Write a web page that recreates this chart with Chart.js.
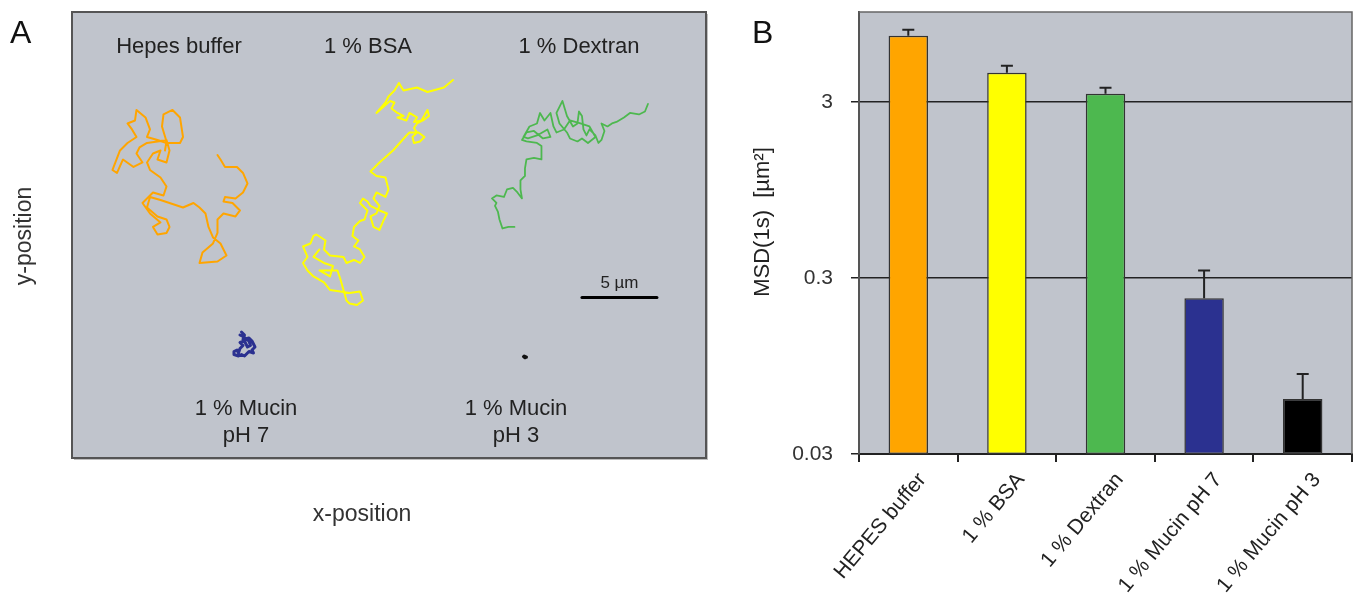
<!DOCTYPE html>
<html>
<head>
<meta charset="utf-8">
<script src="https://cdn.jsdelivr.net/npm/chart.js@4.4.1/dist/chart.umd.min.js"></script>
<style>
  html, body { margin: 0; padding: 0; background: #fff; }
  #wrap { position: relative; width: 1358px; height: 612px; }
  #cA { position: absolute; left: 0; top: 0; }
  #cB { position: absolute; left: 720px; top: 0; }
</style>
</head>
<body>
<div id="wrap">
  <canvas id="cA" width="720" height="612"></canvas>
  <canvas id="cB" width="638" height="612"></canvas>
</div>
<script>
// ---- panel A: particle tracks, positions in µm ----
const hepesTrack = [[9.7,20.2],[9.9,19.9],[10.2,19.4],[11.0,19.4],[11.4,19.0],[11.7,18.3],[11.4,17.7],[10.9,17.3],[10.2,17.4],[10.1,17.1],[10.7,17.0],[11.2,16.5],[10.9,16.1],[10.1,16.3],[9.7,15.9],[9.7,15.0],[9.4,14.3],[8.7,13.7],[8.5,13.0],[9.7,13.1],[10.3,13.5],[9.9,14.3],[9.4,14.7],[9.1,15.4],[8.9,16.3],[8.5,16.7],[8.1,17.0],[7.4,16.7],[6.5,17.0],[5.9,17.2],[5.2,17.4],[5.0,16.7],[5.7,16.1],[6.3,15.9],[6.5,15.4],[6.3,15.0],[5.7,14.9],[5.4,15.4],[5.9,15.7],[5.2,16.3],[4.7,17.0],[5.4,17.7],[6.1,17.5],[6.3,18.1],[5.9,18.7],[5.2,19.2],[5.0,19.7],[5.4,20.3],[5.9,20.5],[5.7,19.9],[6.3,19.7],[6.5,20.5],[6.3,21.2],[5.7,21.1],[5.0,21.0],[4.5,20.7],[4.3,20.3],[4.7,19.7],[4.1,19.4],[3.4,19.9],[3.0,19.0],[2.7,19.2],[3.2,20.5],[3.7,21.0],[4.3,21.4],[4.0,21.9],[3.7,22.3],[4.2,22.5],[4.3,23.2],[4.9,22.7],[5.2,21.9],[5.0,21.4],[5.7,21.2],[6.3,21.0],[7.2,21.0],[7.4,21.4],[7.2,22.7],[6.7,23.2],[6.1,22.9],[6.0,22.1],[6.3,21.1],[6.2,20.5]];
const bsaTrack = [[25.4,25.2],[24.8,24.7],[23.7,24.4],[23.0,24.7],[22.1,24.5],[21.8,25.0],[21.5,24.5],[21.1,24.1],[20.9,23.7],[20.3,23.0],[21.2,23.8],[21.5,23.7],[21.3,23.3],[21.7,23.0],[22.1,22.8],[21.7,22.7],[22.3,22.5],[22.5,23.0],[23.0,22.7],[22.8,22.4],[23.3,22.5],[23.7,23.2],[23.8,22.8],[23.4,22.5],[23.0,22.3],[22.8,22.0],[23.0,21.7],[22.7,21.4],[22.8,21.0],[23.2,21.1],[23.5,21.4],[23.1,21.7],[22.5,21.7],[22.3,21.5],[21.4,20.5],[20.5,19.7],[19.9,19.1],[20.3,18.8],[20.9,18.7],[21.1,17.9],[20.9,17.4],[20.3,17.7],[20.1,17.3],[20.5,16.8],[20.3,16.3],[19.9,16.1],[20.1,15.4],[20.5,15.2],[20.8,15.9],[21.0,16.3],[20.5,16.5],[19.9,16.8],[19.7,17.1],[19.4,17.3],[19.2,17.0],[19.7,16.5],[19.5,15.9],[19.2,15.8],[18.8,15.4],[18.7,14.8],[19.1,14.5],[18.8,14.1],[19.2,13.9],[19.5,13.4],[19.2,13.0],[18.8,13.2],[18.3,13.0],[18.1,13.4],[17.2,13.5],[16.8,13.9],[16.9,14.5],[16.3,14.9],[16.1,14.8],[15.9,14.3],[15.4,14.1],[15.7,13.4],[15.4,13.0],[15.7,12.5],[16.1,12.1],[16.8,11.7],[17.2,11.2],[17.9,11.1],[18.5,11.0],[19.2,11.1],[19.4,10.5],[19.0,10.2],[18.5,10.3],[18.3,10.5],[17.9,11.9],[17.7,12.5],[16.5,12.5],[17.2,12.1],[17.4,12.8],[16.8,13.0],[16.1,13.4],[16.5,13.9]];
const dextranTrack = [[38.4,23.6],[38.2,23.1],[38.0,23.0],[37.8,22.9],[37.2,23.0],[36.8,22.7],[36.3,22.4],[36.0,22.3],[35.7,22.1],[35.3,22.3],[35.5,21.8],[35.3,21.2],[35.1,21.0],[34.9,21.5],[34.5,21.9],[34.3,21.5],[34.1,21.9],[34.0,22.8],[33.8,23.1],[33.7,22.3],[33.4,22.1],[33.0,22.8],[32.7,23.8],[32.3,23.0],[32.5,22.3],[33.0,21.7],[33.2,21.3],[33.7,21.1],[34.0,21.3],[34.4,21.0],[34.9,21.4],[34.5,22.1],[33.9,22.3],[33.2,22.5],[32.8,21.9],[32.3,21.7],[32.1,22.1],[31.9,23.0],[31.5,22.5],[31.2,23.0],[31.0,22.3],[30.5,22.1],[30.1,21.4],[30.4,21.3],[31.0,21.5],[31.7,21.9],[31.9,21.4],[31.4,21.3],[30.8,21.8],[30.3,21.7],[30.0,21.2],[30.3,21.1],[31.0,21.0],[31.3,20.8],[31.3,19.9],[30.8,20.0],[30.3,19.9],[30.2,19.3],[30.2,18.8],[29.9,18.5],[29.9,17.9],[30.0,17.3],[29.7,17.7],[29.4,18.0],[29.0,17.9],[28.8,17.4],[28.3,17.5],[28.0,17.3],[28.3,17.0],[28.2,16.8],[28.4,16.4],[28.5,15.9],[28.7,15.3],[29.1,15.4],[29.5,15.4]];
const mucin7Track = [[11.3,8.4],[11.5,8.2],[11.4,7.9],[11.8,8.0],[12.0,7.8],[12.2,7.4],[12.0,7.2],[12.1,7.0],[11.8,7.1],[11.5,6.8],[11.3,6.9],[11.1,6.8],[10.8,6.9],[10.8,7.1],[11.0,7.2],[11.1,7.0],[11.2,7.3],[11.4,7.5],[11.2,7.7],[11.5,7.8],[11.7,7.4],[11.9,7.5],[11.8,7.8],[11.4,8.1],[11.2,8.2]];
const mucin3Track = [[30.15,6.8],[30.3,6.72],[30.2,6.68],[30.1,6.76]];
const scaleBar = [[34.0,10.7],[39.0,10.7]];   // 5 µm
const fieldW = 42.27, fieldH = 29.73;          // µm

// ---- panel B: MSD at 1 s ----
const groups = ["HEPES buffer", "1 % BSA", "1 % Dextran", "1 % Mucin pH 7", "1 % Mucin pH 3"];
const msd = [7.1, 4.38, 3.33, 0.23, 0.0615];
const msdErr = [0.6, 0.42, 0.27, 0.10, 0.024];
const yTicks = [0.03, 0.3, 3];

const barColors = ["#FFA500", "#FFFF00", "#4DB84F", "#2B3190", "#000000"];
const trackColors = ["#FFA500", "#FFFF00", "#4DB84F", "#2B3190", "#111111"];
const plotBg = "#C0C4CC";
const FONT = "'Liberation Sans', Arial, sans-serif";

const toXY = arr => arr.map(p => ({ x: p[0], y: p[1] }));

const panelA = {
  id: "panelA",
  beforeDraw(chart) {
    const { ctx, chartArea: a } = chart;
    ctx.save();
    ctx.fillStyle = "rgba(0,0,0,0.25)";
    ctx.fillRect(a.left + 2, a.top + 2, a.right - a.left, a.bottom - a.top);
    ctx.fillStyle = plotBg;
    ctx.fillRect(a.left, a.top, a.right - a.left, a.bottom - a.top);
    ctx.restore();
  },
  afterDraw(chart) {
    const { ctx, chartArea: a } = chart;
    ctx.save();
    ctx.strokeStyle = "#555";
    ctx.lineWidth = 2;
    ctx.strokeRect(a.left, a.top, a.right - a.left, a.bottom - a.top);

    ctx.fillStyle = "#222";
    ctx.textAlign = "center";
    ctx.textBaseline = "alphabetic";
    ctx.font = "22px " + FONT;
    ctx.fillText("Hepes buffer", 179, 53);
    ctx.fillText("1 % BSA", 368, 53);
    ctx.fillText("1 % Dextran", 579, 53);
    ctx.fillText("1 % Mucin", 246, 415);
    ctx.fillText("pH 7", 246, 442);
    ctx.fillText("1 % Mucin", 516, 415);
    ctx.fillText("pH 3", 516, 442);

    const xs = chart.scales.x, ys = chart.scales.y;
    ctx.font = "17px " + FONT;
    ctx.fillText("5 µm", xs.getPixelForValue((scaleBar[0][0] + scaleBar[1][0]) / 2), ys.getPixelForValue(scaleBar[0][1]) - 9);

    ctx.fillStyle = "#333";
    ctx.font = "23px " + FONT;
    ctx.fillText("x-position", 362, 521);
    ctx.save();
    ctx.translate(31, 236);
    ctx.rotate(-Math.PI / 2);
    ctx.fillText("y-position", 0, 0);
    ctx.restore();

    ctx.fillStyle = "#111";
    ctx.textAlign = "left";
    ctx.font = "32px " + FONT;
    ctx.fillText("A", 10, 43);
    ctx.restore();
  }
};

const trackSet = (data, color, width) => ({
  data: toXY(data), showLine: true, borderColor: color, borderWidth: width,
  pointRadius: 0, borderJoinStyle: "round", borderCapStyle: "round", tension: 0
});

new Chart(document.getElementById("cA"), {
  type: "scatter",
  data: {
    datasets: [
      trackSet(hepesTrack, trackColors[0], 2),
      trackSet(bsaTrack, trackColors[1], 2),
      trackSet(dextranTrack, trackColors[2], 1.8),
      trackSet(mucin7Track, trackColors[3], 3),
      trackSet(mucin3Track, trackColors[4], 3),
      trackSet(scaleBar, "#000", 3)
    ]
  },
  options: {
    responsive: false,
    animation: false,
    layout: { padding: { left: 72, right: 14, top: 12, bottom: 154 } },
    plugins: { legend: { display: false }, tooltip: { enabled: false } },
    scales: {
      x: { type: "linear", display: false, min: 0, max: fieldW },
      y: { type: "linear", display: false, min: 0, max: fieldH }
    }
  },
  plugins: [panelA]
});

const panelB = {
  id: "panelB",
  beforeDraw(chart) {
    const { ctx, chartArea: a } = chart;
    ctx.save();
    ctx.fillStyle = plotBg;
    ctx.fillRect(a.left, a.top, a.right - a.left, a.bottom - a.top);
    ctx.restore();
  },
  afterDatasetsDraw(chart) {
    const { ctx, chartArea: a } = chart;
    const ys = chart.scales.y;
    const bars = chart.getDatasetMeta(0).data;
    ctx.save();
    ctx.strokeStyle = "#222";
    ctx.lineWidth = 2;
    bars.forEach((b, i) => {
      const y0 = ys.getPixelForValue(msd[i]);
      const y1 = ys.getPixelForValue(msd[i] + msdErr[i]);
      ctx.beginPath();
      ctx.moveTo(b.x, y0);
      ctx.lineTo(b.x, y1);
      ctx.moveTo(b.x - 6, y1);
      ctx.lineTo(b.x + 6, y1);
      ctx.stroke();
    });
    ctx.strokeStyle = "#666";
    ctx.lineWidth = 1.5;
    ctx.beginPath();
    ctx.moveTo(a.left, a.top);
    ctx.lineTo(a.right, a.top);
    ctx.lineTo(a.right, a.bottom);
    ctx.stroke();

    // y-axis title and panel letter
    ctx.fillStyle = "#222";
    ctx.textAlign = "center";
    ctx.textBaseline = "middle";
    ctx.font = "22px " + FONT;
    ctx.translate(43, 222);
    ctx.rotate(-Math.PI / 2);
    ctx.fillText("MSD(1s)  [µm²]", 0, 0);
    ctx.setTransform(1, 0, 0, 1, 0, 0);
    ctx.fillStyle = "#111";
    ctx.textAlign = "left";
    ctx.textBaseline = "alphabetic";
    ctx.font = "32px " + FONT;
    ctx.fillText("B", 32, 43);
    ctx.restore();
  }
};

new Chart(document.getElementById("cB"), {
  type: "bar",
  data: {
    labels: groups,
    datasets: [{
      data: msd,
      backgroundColor: barColors,
      borderColor: "#333",
      borderWidth: 1.5,
      borderSkipped: false,
      categoryPercentage: 1,
      barPercentage: 0.4
    }]
  },
  options: {
    responsive: false,
    animation: false,
    layout: { padding: { left: 30, right: 6, top: 12, bottom: 0 } },
    plugins: { legend: { display: false }, tooltip: { enabled: false } },
    scales: {
      x: {
        grid: { offset: true, drawOnChartArea: false, drawTicks: true, tickLength: 8, color: "#222", lineWidth: 2 },
        border: { color: "#222", width: 2 },
        ticks: { minRotation: 50, maxRotation: 50, autoSkip: false, labelOffset: 14, color: "#222", padding: 6, font: { family: FONT, size: 21 } },
        afterFit(s) { s.height = 158; s.paddingLeft = 0; s.paddingRight = 0; }
      },
      y: {
        type: "logarithmic",
        min: 0.03,
        max: 9.7,
        afterBuildTicks(s) { s.ticks = yTicks.map(v => ({ value: v })); },
        ticks: { callback: v => String(v), color: "#333", padding: 18, font: { family: FONT, size: 21 } },
        grid: { color: "#222", lineWidth: 1.5, tickLength: 8 },
        border: { color: "#555", width: 2 },
        afterFit(s) { s.width = 109; s.paddingTop = 0; s.paddingBottom = 0; }
      }
    }
  },
  plugins: [panelB]
});
</script>
</body>
</html>
